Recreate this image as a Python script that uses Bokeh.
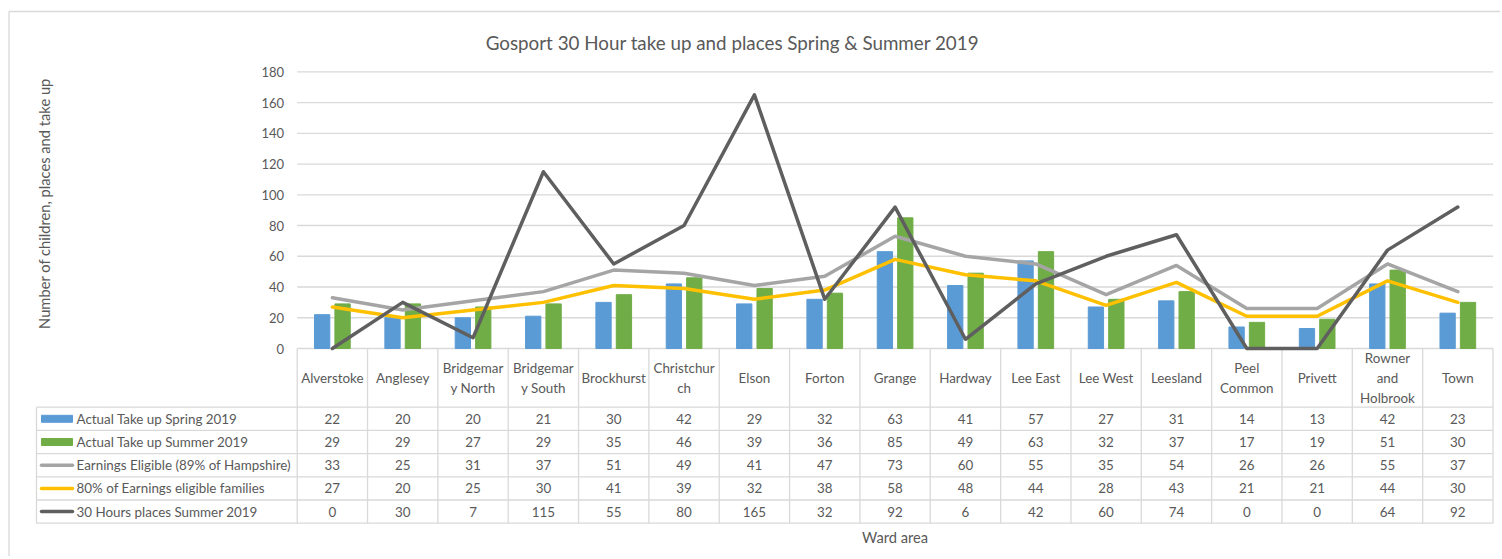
import math
from bokeh.plotting import figure
from bokeh.models import Range1d
from bokeh.embed import file_html
from bokeh.resources import INLINE
from bokeh.core.properties import value

# ---------------- data ----------------
wards = ["Alverstoke", "Anglesey", "Bridgemary North", "Bridgemary South", "Brockhurst",
         "Christchurch", "Elson", "Forton", "Grange", "Hardway", "Lee East", "Lee West",
         "Leesland", "Peel Common", "Privett", "Rowner and Holbrook", "Town"]
ward_labels = ["Alverstoke", "Anglesey", "Bridgemar\ny North", "Bridgemar\ny South", "Brockhurst",
               "Christchur\nch", "Elson", "Forton", "Grange", "Hardway", "Lee East", "Lee West",
               "Leesland", "Peel\nCommon", "Privett", "Rowner\nand\nHolbrook", "Town"]
spring = [22, 20, 20, 21, 30, 42, 29, 32, 63, 41, 57, 27, 31, 14, 13, 42, 23]
summer = [29, 29, 27, 29, 35, 46, 39, 36, 85, 49, 63, 32, 37, 17, 19, 51, 30]
eligible = [33, 25, 31, 37, 51, 49, 41, 47, 73, 60, 55, 35, 54, 26, 26, 55, 37]
eligible80 = [27, 20, 25, 30, 41, 39, 32, 38, 58, 48, 44, 28, 43, 21, 21, 44, 30]
places = [0, 30, 7, 115, 55, 80, 165, 32, 92, 6, 42, 60, 74, 0, 0, 64, 92]
series_names = ["Actual Take up Spring 2019", "Actual Take up Summer 2019",
                "Earnings Eligible (89% of Hampshire)", "80% of Earnings eligible families",
                "30 Hours places Summer 2019"]
y_ticks = [0, 20, 40, 60, 80, 100, 120, 140, 160, 180]
title_text = "Gosport 30 Hour take up and places Spring & Summer 2019"
y_title = "Number of children, places and take up"
x_title = "Ward area"

# ---------------- style / layout (pixels) ----------------
BLUE, GREEN, GRAY, GOLD, DARK = "#5B9BD5", "#70AD47", "#A5A5A5", "#FFC000", "#5F5F5F"
TXT, GRID = "#595959", "#D9D9D9"
FONT = "Lato"
FS = "13.4px"

W, H = 1500, 556
n = len(wards)
PLOT_L, PLOT_R = 296.7, 1492.5     # plot area left/right
PLOT_TOP, PLOT_BOT = 71.3, 348     # pixel rows of 180 and 0
YMAX = 180
unit = (PLOT_R - PLOT_L) / n
ppv = (PLOT_BOT - PLOT_TOP) / YMAX  # pixels per value


def px2x(px):
    return (px - PLOT_L) / unit


xc = [i + 0.5 for i in range(n)]

p = figure(width=W, height=H, x_range=Range1d(px2x(0), px2x(W)), y_range=Range1d(H, 0),
           output_backend="svg", toolbar_location=None, x_axis_location=None,
           y_axis_location=None, min_border=0)
p.outline_line_color = None
p.grid.visible = False
p.extra_y_ranges = {"v": Range1d(-(H - PLOT_BOT) / ppv, YMAX + PLOT_TOP / ppv)}

# chart area border
p.segment(x0=[px2x(8.5), px2x(8.5)], y0=[11, 11], x1=[px2x(W), px2x(8.5)], y1=[11, H],
          line_color=GRID, line_width=1.3)

# gridlines + value-axis tick labels
p.segment(x0=[0] * len(y_ticks), y0=y_ticks, x1=[n] * len(y_ticks), y1=y_ticks,
          line_color=GRID, line_width=1.3, y_range_name="v")
p.text(x=[px2x(283.5)] * len(y_ticks), y=y_ticks, text=[str(t) for t in y_ticks],
       text_align="right", text_baseline="middle", text_font=value(FONT),
       text_font_size="13px", text_color=TXT, y_range_name="v")

# titles
p.text(x=[px2x(732)], y=[41.5], text=[title_text], text_align="center", text_baseline="middle",
       text_font=value(FONT), text_font_size="18.8px", text_color=TXT)
p.text(x=[px2x(43)], y=[203], text=[y_title], angle=math.pi / 2,
       text_align="center", text_baseline="middle", text_font=value(FONT),
       text_font_size="14.7px", text_color=TXT)

# ---------------- data table grid ----------------
HEADER_BOT = 406.7
ROW_H = 23.2
TABLE_L = px2x(36)
row_lines = [HEADER_BOT + k * ROW_H for k in range(len(series_names) + 1)]
bottom = row_lines[-1]
p.segment(x0=[TABLE_L] * len(row_lines), y0=row_lines, x1=[n] * len(row_lines), y1=row_lines,
          line_color=GRID, line_width=1.3)
p.segment(x0=list(range(n + 1)), y0=[PLOT_BOT] * (n + 1), x1=list(range(n + 1)),
          y1=[bottom] * (n + 1), line_color=GRID, line_width=1.3)
p.segment(x0=[TABLE_L], y0=[HEADER_BOT], x1=[TABLE_L], y1=[bottom], line_color=GRID,
          line_width=1.3)

# ---------------- bars and lines ----------------
bw = 15.3 / unit
off = 10.2 / unit
p.vbar(x=[x - off for x in xc], top=spring, bottom=0, width=bw, color=BLUE, y_range_name="v")
p.vbar(x=[x + off for x in xc], top=summer, bottom=0, width=bw, color=GREEN, y_range_name="v")
p.line(xc, eligible, line_width=3.5, color=GRAY, line_join="round", line_cap="round",
       y_range_name="v")
p.line(xc, eligible80, line_width=3.5, color=GOLD, line_join="round", line_cap="round",
       y_range_name="v")
p.line(xc, places, line_width=3.5, color=DARK, line_join="round", line_cap="round",
       y_range_name="v")

# ---------------- table texts ----------------
p.text(x=xc, y=[(PLOT_BOT + HEADER_BOT) / 2] * n, text=ward_labels, text_align="center",
       text_baseline="middle", text_font=value(FONT), text_font_size=FS, text_color=TXT,
       text_line_height=1.27)

all_series = [spring, summer, eligible, eligible80, places]
colors = [BLUE, GREEN, GRAY, GOLD, DARK]
kinds = ["bar", "bar", "line", "line", "line"]
row_mid = [HEADER_BOT + (k + 0.5) * ROW_H for k in range(len(series_names))]
for k, vals in enumerate(all_series):
    p.text(x=xc, y=[row_mid[k]] * n, text=[str(v) for v in vals], text_align="center",
           text_baseline="middle", text_font=value(FONT), text_font_size=FS, text_color=TXT)

k_l, k_r = px2x(41), px2x(72)
for k in range(len(series_names)):
    if kinds[k] == "bar":
        p.rect(x=[(k_l + k_r) / 2], y=[row_mid[k]], width=k_r - k_l, height=7, color=colors[k])
    else:
        p.segment(x0=[k_l], y0=[row_mid[k]], x1=[k_r], y1=[row_mid[k]], line_color=colors[k],
                  line_width=3.5, line_cap="round")
p.text(x=[px2x(76)] * len(series_names), y=row_mid, text=series_names, text_align="left",
       text_baseline="middle", text_font=value(FONT), text_font_size=FS, text_color=TXT)

p.text(x=[n / 2], y=[536], text=[x_title], text_align="center", text_baseline="middle",
       text_font=value(FONT), text_font_size="14.7px", text_color=TXT)

open("out.html", "w").write(file_html(p, INLINE))
